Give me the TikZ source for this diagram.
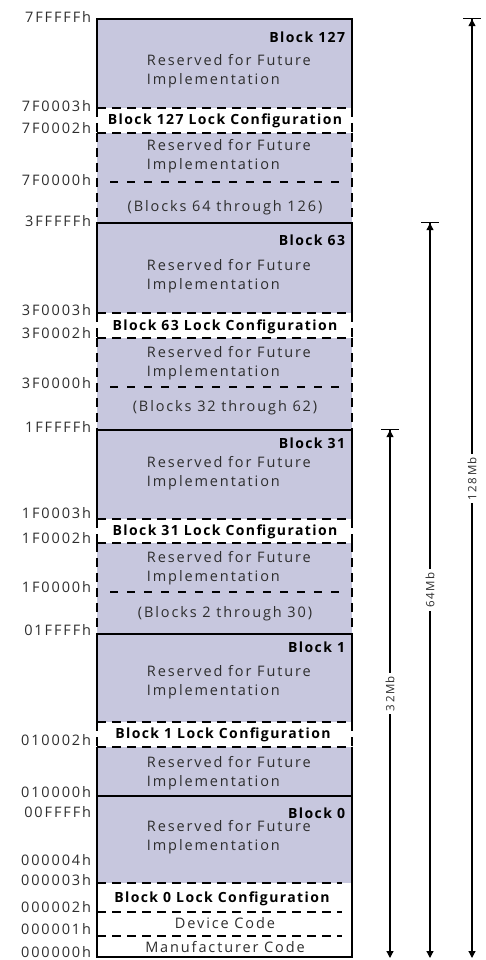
\documentclass[tikz,border=0pt]{standalone}
\usepackage{fontspec}
\setmainfont{Open Sans}[LetterSpace=13]
\usetikzlibrary{arrows.meta}
\definecolor{blockfill}{RGB}{199,199,222}
\definecolor{txtgray}{RGB}{45,45,45}
\tikzset{
addr/.style={anchor=east,inner sep=0.75pt,text=txtgray,font=\fontsize{14.5}{16}\selectfont},
blkname/.style={anchor=east,inner sep=0.75pt,font=\fontsize{14}{16}\selectfont\bfseries\addfontfeatures{LetterSpace=10}},
resv/.style={anchor=west,inner sep=0.75pt,align=left,text=txtgray,font=\fontsize{14.5}{18.5}\selectfont},
lockname/.style={inner sep=0.75pt,font=\fontsize{14}{16}\selectfont\bfseries\addfontfeatures{LetterSpace=10}},
plain/.style={inner sep=0.75pt,text=txtgray,font=\fontsize{14.5}{16}\selectfont},
lockdash/.style={dash pattern={on 9pt off 6pt},line width=1.1pt},
subdash/.style={dash pattern={on 8pt off 9pt},line width=1.1pt},
border/.style={line width=1.1pt},
dimline/.style={line width=1.2pt,{Bar[width=18pt]Triangle[length=7pt,width=7pt]}-{Triangle[length=7pt,width=7pt]}},
dimlbl/.style={midway,fill=white,rotate=90,inner sep=3pt,text=txtgray,font=\fontsize{11.5}{13}\selectfont}
}
\begin{document}
\begin{tikzpicture}[x=1pt,y=1pt,yscale=-1,xscale=1]
\useasboundingbox (0,0) rectangle (486,960);

%Shape: Rectangle [block fills]
\fill [blockfill] (97,19) rectangle (352,108);
\fill [blockfill] (97,133) rectangle (352,223);
\fill [blockfill] (97,223) rectangle (352,313);
\fill [blockfill] (97,338) rectangle (352,430);
\fill [blockfill] (97,430) rectangle (352,519);
\fill [blockfill] (97,543) rectangle (352,634);
\fill [blockfill] (97,634) rectangle (352,722);
\fill [blockfill] (97,747) rectangle (352,796);
\fill [blockfill] (97,796) rectangle (352,883);

%Straight Lines [block 127]
\draw [border] (97,108) -- (97,19) -- (352,19) -- (352,108) ;
\draw [lockdash] (97,108) -- (352,108) ;
\draw [lockdash] (97,133) -- (352,133) ;
\draw [lockdash] (97,108) -- (97,133) ;
\draw [lockdash] (352,108) -- (352,133) ;
\draw [lockdash] (97,133) -- (97,223) ;
\draw [lockdash] (352,133) -- (352,223) ;
\draw [subdash] (110,182) -- (340,182) ;

%Straight Lines [block 63]
\draw [border] (97,313) -- (97,223) -- (352,223) -- (352,313) ;
\draw [lockdash] (97,313) -- (352,313) ;
\draw [lockdash] (97,338) -- (352,338) ;
\draw [lockdash] (97,313) -- (97,338) ;
\draw [lockdash] (352,313) -- (352,338) ;
\draw [lockdash] (97,338) -- (97,430) ;
\draw [lockdash] (352,338) -- (352,430) ;
\draw [subdash] (110,387) -- (340,387) ;

%Straight Lines [block 31]
\draw [border] (97,519) -- (97,430) -- (352,430) -- (352,519) ;
\draw [lockdash] (97,519) -- (352,519) ;
\draw [lockdash] (97,543) -- (352,543) ;
\draw [lockdash] (97,519) -- (97,543) ;
\draw [lockdash] (352,519) -- (352,543) ;
\draw [lockdash] (97,543) -- (97,634) ;
\draw [lockdash] (352,543) -- (352,634) ;
\draw [subdash] (110,592) -- (340,592) ;

%Straight Lines [block 1]
\draw [border] (97,722) -- (97,634) -- (352,634) -- (352,722) ;
\draw [lockdash] (97,722) -- (352,722) ;
\draw [lockdash] (97,747) -- (352,747) ;
\draw [lockdash] (97,722) -- (97,747) ;
\draw [lockdash] (352,722) -- (352,747) ;
\draw [border] (97,747) -- (97,796) ;
\draw [border] (352,747) -- (352,796) ;

%Straight Lines [block 0]
\draw [border] (97,796) rectangle (352,957) ;
\draw [lockdash] (97,883) -- (342,883) ;
\draw [lockdash] (97,912) -- (342,912) ;
\draw [lockdash] (97,936) -- (342,936) ;

% Text Node [block names]
\node [blkname] (b127) at (346,37) {Block 127};
\node [blkname] (b63) at (346,240) {Block 63};
\node [blkname] (b31) at (346,443) {Block 31};
\node [blkname] (b1) at (346,647) {Block 1};
\node [blkname] (b0) at (346,813) {Block 0};

% Text Node [reserved]
\node [resv] (r127a) at (146,71) {Reserved for Future\\Implementation};
\node [resv] (r127b) at (146,156) {Reserved for Future\\Implementation};
\node [resv] (r63a) at (146,276) {Reserved for Future\\Implementation};
\node [resv] (r63b) at (146,363) {Reserved for Future\\Implementation};
\node [resv] (r31a) at (146,473) {Reserved for Future\\Implementation};
\node [resv] (r31b) at (146,568) {Reserved for Future\\Implementation};
\node [resv] (r1a) at (146,682) {Reserved for Future\\Implementation};
\node [resv] (r1b) at (146,773) {Reserved for Future\\Implementation};
\node [resv] (r0a) at (146,837) {Reserved for Future\\Implementation};

% Text Node [lock configuration]
\node [lockname] (lk127) at (225,121) {Block 127 Lock Configuration};
\node [lockname] (lk63) at (225,327) {Block 63 Lock Configuration};
\node [lockname] (lk31) at (225,532) {Block 31 Lock Configuration};
\node [lockname] (lk1) at (223,735) {Block 1 Lock Configuration};
\node [lockname] (lk0) at (222,899) {Block 0 Lock Configuration};

% Text Node [block ranges and codes]
\node [plain] (rg64) at (225,208) {(Blocks 64 through 126)};
\node [plain] (rg32) at (225,408) {(Blocks 32 through 62)};
\node [plain] (rg2) at (225,614) {(Blocks 2 through 30)};
\node [plain] (dev) at (225,923) {Device Code};
\node [plain] (man) at (225,947) {Manufacturer Code};

% Text Node [addresses]
\node [addr] (a7fffff) at (92,17) {7FFFFFh};
\node [addr] (a7f0003) at (92,106) {7F0003h};
\node [addr] (a7f0002) at (92,128) {7F0002h};
\node [addr] (a7f0000) at (92,180) {7F0000h};
\node [addr] (a3fffff) at (92,221) {3FFFFFh};
\node [addr] (a3f0003) at (92,310) {3F0003h};
\node [addr] (a3f0002) at (92,333) {3F0002h};
\node [addr] (a3f0000) at (92,383) {3F0000h};
\node [addr] (a1fffff) at (92,427) {1FFFFFh};
\node [addr] (a1f0003) at (92,513) {1F0003h};
\node [addr] (a1f0002) at (92,538) {1F0002h};
\node [addr] (a1f0000) at (92,587) {1F0000h};
\node [addr] (a01ffff) at (92,630) {01FFFFh};
\node [addr] (a010002) at (92,740) {010002h};
\node [addr] (a010000) at (92,792) {010000h};
\node [addr] (a00ffff) at (92,812) {00FFFFh};
\node [addr] (a000004) at (92,860) {000004h};
\node [addr] (a000003) at (92,880) {000003h};
\node [addr] (a000002) at (92,907) {000002h};
\node [addr] (a000001) at (92,929) {000001h};
\node [addr] (a000000) at (92,952) {000000h};

%Straight Lines [size arrows]
\coordinate (t32) at (390,429);
\coordinate (e32) at (390,958);
\coordinate (t64) at (430,222);
\coordinate (e64) at (430,958);
\coordinate (t128) at (472,18);
\coordinate (e128) at (472,958);
\draw [dimline] (t32) -- node [dimlbl] {32Mb} (e32) ;
\draw [dimline] (t64) -- node [dimlbl] {64Mb} (e64) ;
\draw [dimline] (t128) -- node [dimlbl,pos=0.49] {128Mb} (e128) ;
\end{tikzpicture}
\end{document}
